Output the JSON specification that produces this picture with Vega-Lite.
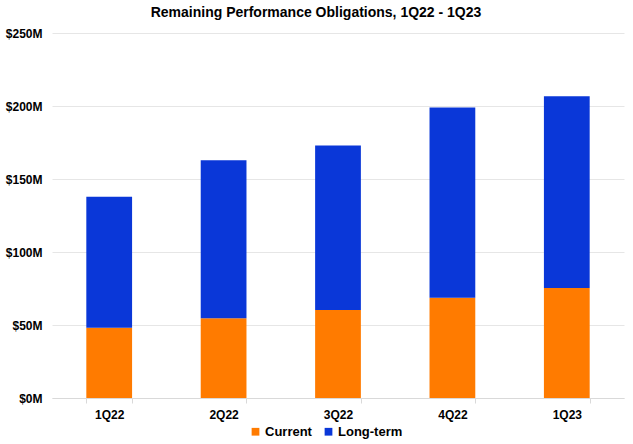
{
  "$schema": "https://vega.github.io/schema/vega-lite/v6.json",
  "autosize": "none",
  "padding": {"left": 52, "top": 33, "right": 9, "bottom": 46},
  "width": 572,
  "height": 365,
  "background": "white",
  "title": {
    "text": "Remaining Performance Obligations, 1Q22 - 1Q23",
    "font": "Liberation Sans",
    "fontSize": 14,
    "fontWeight": "bold",
    "color": "black",
    "anchor": "middle",
    "dx": -22,
    "offset": 7
  },
  "data": {
    "values": [
      {"quarter": "1Q22", "type": "Current", "order": 1, "value": 48.2},
      {"quarter": "1Q22", "type": "Long-term", "order": 2, "value": 89.7},
      {"quarter": "2Q22", "type": "Current", "order": 1, "value": 54.6},
      {"quarter": "2Q22", "type": "Long-term", "order": 2, "value": 108.2},
      {"quarter": "3Q22", "type": "Current", "order": 1, "value": 60.3},
      {"quarter": "3Q22", "type": "Long-term", "order": 2, "value": 112.7},
      {"quarter": "4Q22", "type": "Current", "order": 1, "value": 68.7},
      {"quarter": "4Q22", "type": "Long-term", "order": 2, "value": 130.3},
      {"quarter": "1Q23", "type": "Current", "order": 1, "value": 75.3},
      {"quarter": "1Q23", "type": "Long-term", "order": 2, "value": 131.3}
    ]
  },
  "mark": {"type": "bar"},
  "encoding": {
    "x": {
      "field": "quarter",
      "type": "nominal",
      "sort": null,
      "title": null,
      "scale": {"paddingInner": 0.6, "paddingOuter": 0.3},
      "axis": {
        "labelAngle": 0,
        "labelFont": "Liberation Sans",
        "labelFontSize": 12,
        "labelFontWeight": "bold",
        "labelColor": "black",
        "labelPadding": 6,
        "domainColor": "#d9d9d9",
        "tickColor": "#d9d9d9",
        "tickBand": "extent",
        "tickSize": 5,
        "grid": false
      }
    },
    "y": {
      "field": "value",
      "type": "quantitative",
      "stack": "zero",
      "title": null,
      "scale": {"domain": [0, 250]},
      "axis": {
        "values": [0, 50, 100, 150, 200, 250],
        "labelExpr": "'$' + datum.value + 'M'",
        "labelFont": "Liberation Sans",
        "labelFontSize": 12,
        "labelFontWeight": "bold",
        "labelColor": "black",
        "labelPadding": 10,
        "domain": false,
        "ticks": false,
        "gridColor": "#e6e6e6"
      }
    },
    "color": {
      "field": "type",
      "type": "nominal",
      "scale": {"domain": ["Current", "Long-term"], "range": ["#ff7b00", "#0a37d8"]},
      "legend": {
        "title": null,
        "orient": "none",
        "direction": "horizontal",
        "legendX": 197,
        "legendY": 392,
        "symbolType": "square",
        "symbolSize": 60,
        "symbolStrokeWidth": 0,
        "labelFont": "Liberation Sans",
        "labelFontSize": 13,
        "labelFontWeight": "bold",
        "labelColor": "black",
        "labelOffset": 3,
        "columnPadding": 10
      }
    },
    "order": {"field": "order"}
  },
  "config": {"view": {"stroke": null}}
}
